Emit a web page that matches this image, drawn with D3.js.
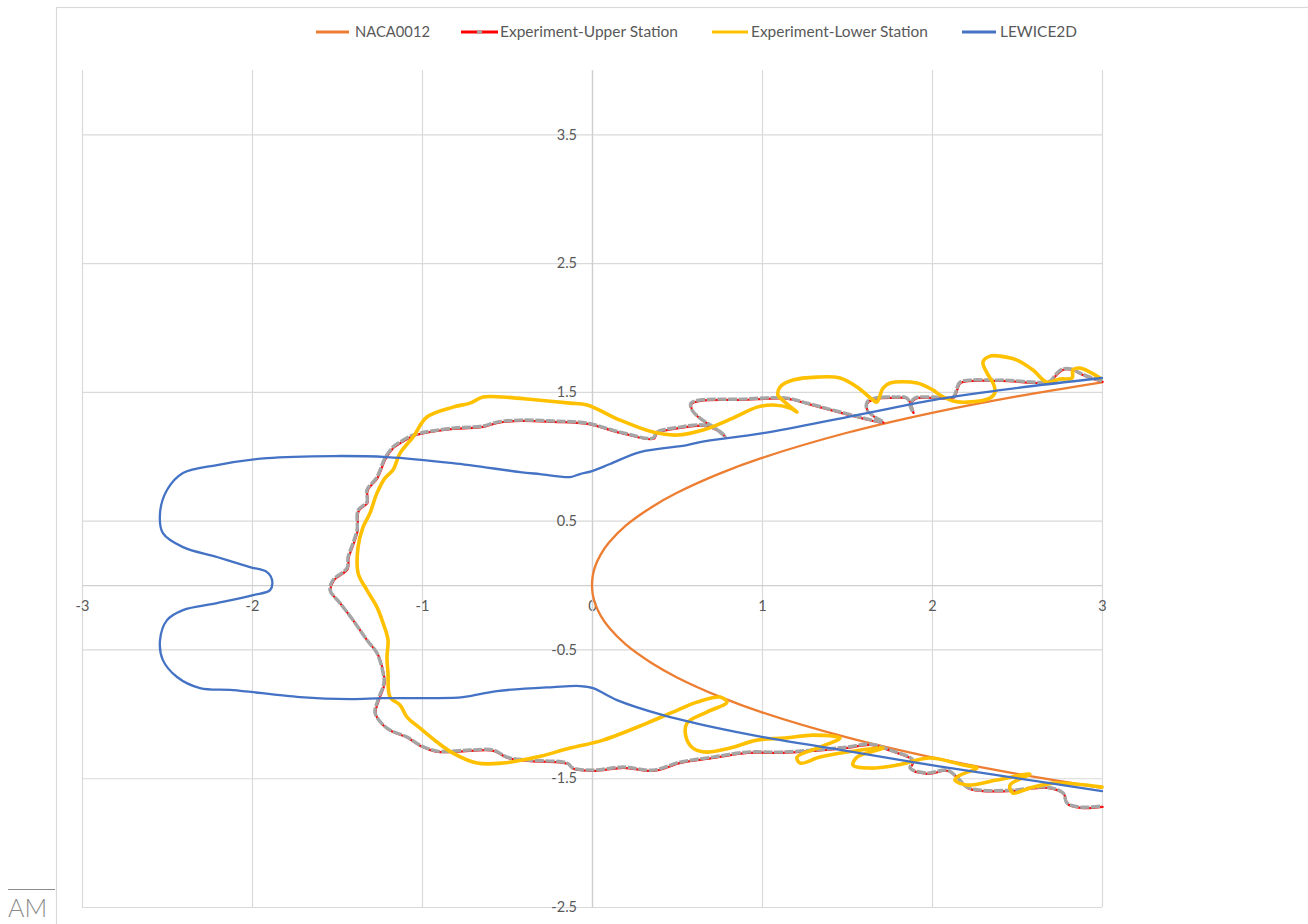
<!DOCTYPE html>
<html>
<head>
<meta charset="utf-8">
<script src="https://cdn.jsdelivr.net/npm/d3@7"></script>
<style>
  body { margin: 0; background: #fff; }
  svg { display: block; }
  text { font-family: Lato, "Open Sans", sans-serif; }
</style>
</head>
<body>
<svg id="chart" width="1308" height="924"></svg>
<script>
// Axis ticks
const xTicks = [-3, -2, -1, 0, 1, 2, 3];
const yTicks = [-2.5, -1.5, -0.5, 0.5, 1.5, 2.5, 3.5];

// NACA0012 clean airfoil contour (upper surface -> leading edge -> lower surface)
const nacaX = [3.0, 2.5, 2.0, 1.5, 1.0, 0.75, 0.5, 0.35, 0.2, 0.1, 0.05, 0.02, 0.005, 0, 0.005, 0.02, 0.05, 0.1, 0.2, 0.35, 0.5, 0.75, 1.0, 1.5, 2.0, 2.5, 3.0];
const nacaY = [1.575, 1.466, 1.338, 1.183, 0.988, 0.866, 0.717, 0.605, 0.463, 0.330, 0.235, 0.150, 0.076, 0, -0.076, -0.150, -0.235, -0.330, -0.463, -0.605, -0.717, -0.866, -0.988, -1.183, -1.338, -1.466, -1.575];

// Experiment - upper station ice tracing
const upperX = [3.0, 2.929, 2.871, 2.824, 2.765, 2.724, 2.694, 2.4, 2.165, 2.147, 2.124, 2.006, 1.9, 1.871, 1.888, 1.853, 1.782, 1.665, 1.618, 1.618, 1.665, 1.712, 1.576, 1.418, 1.265, 1.147, 0.871, 0.635, 0.582, 0.588, 0.635, 0.724, 0.782, 0.741, 0.653, 0.518, 0.382, 0.359, 0.165, -0.029, -0.229, -0.424, -0.559, -0.641, -0.818, -1.012, -1.053, -1.129, -1.171, -1.218, -1.265, -1.324, -1.324, -1.376, -1.382, -1.406, -1.435, -1.441, -1.524, -1.541, -1.482, -1.406, -1.324, -1.265, -1.229, -1.224, -1.259, -1.276, -1.206, -1.088, -1.012, -0.912, -0.718, -0.582, -0.5, -0.382, -0.147, -0.112, 0.006, 0.182, 0.359, 0.518, 0.712, 0.912, 1.106, 1.3, 1.5, 1.635, 1.753, 1.888, 1.871, 1.971, 2.088, 2.147, 2.206, 2.282, 2.476, 2.676, 2.771, 2.794, 2.871, 3.0];
const upperY = [1.584, 1.615, 1.646, 1.677, 1.677, 1.631, 1.584, 1.592, 1.576, 1.530, 1.460, 1.460, 1.452, 1.398, 1.343, 1.452, 1.460, 1.452, 1.421, 1.359, 1.305, 1.266, 1.305, 1.359, 1.413, 1.452, 1.444, 1.437, 1.413, 1.359, 1.297, 1.219, 1.157, 1.204, 1.243, 1.227, 1.188, 1.142, 1.188, 1.258, 1.274, 1.281, 1.266, 1.235, 1.219, 1.180, 1.165, 1.111, 1.072, 0.986, 0.839, 0.738, 0.645, 0.582, 0.427, 0.326, 0.217, 0.132, 0.039, -0.039, -0.140, -0.272, -0.427, -0.528, -0.683, -0.761, -0.893, -0.994, -1.111, -1.180, -1.243, -1.289, -1.281, -1.281, -1.336, -1.359, -1.382, -1.421, -1.437, -1.413, -1.437, -1.375, -1.336, -1.297, -1.297, -1.281, -1.258, -1.235, -1.281, -1.359, -1.421, -1.460, -1.437, -1.491, -1.569, -1.592, -1.592, -1.569, -1.615, -1.693, -1.724, -1.716];

// Experiment - lower station ice tracing
const lowerX = [2.988, 2.929, 2.871, 2.829, 2.824, 2.753, 2.676, 2.594, 2.5, 2.4, 2.341, 2.3, 2.324, 2.359, 2.371, 2.341, 2.206, 2.124, 2.047, 2.006, 1.912, 1.753, 1.712, 1.676, 1.653, 1.559, 1.459, 1.324, 1.182, 1.106, 1.094, 1.135, 1.206, 1.165, 1.065, 0.971, 0.829, 0.653, 0.5, 0.359, 0.165, -0.029, -0.129, -0.324, -0.524, -0.641, -0.718, -0.818, -0.971, -1.053, -1.129, -1.171, -1.218, -1.265, -1.306, -1.347, -1.376, -1.376, -1.324, -1.265, -1.229, -1.2, -1.206, -1.2, -1.188, -1.129, -1.088, -1.012, -0.912, -0.818, -0.676, -0.524, -0.324, -0.129, 0.065, 0.324, 0.476, 0.618, 0.753, 0.794, 0.676, 0.559, 0.553, 0.594, 0.676, 0.812, 0.971, 1.135, 1.3, 1.459, 1.341, 1.206, 1.224, 1.341, 1.5, 1.712, 1.559, 1.535, 1.635, 1.794, 1.988, 2.182, 2.265, 2.165, 2.135, 2.206, 2.382, 2.576, 2.459, 2.476, 2.576, 2.712, 2.841, 3.0];
const lowerY = [1.608, 1.654, 1.685, 1.670, 1.608, 1.600, 1.576, 1.670, 1.747, 1.778, 1.778, 1.732, 1.646, 1.569, 1.499, 1.452, 1.421, 1.429, 1.476, 1.514, 1.569, 1.569, 1.530, 1.421, 1.437, 1.538, 1.608, 1.615, 1.592, 1.538, 1.476, 1.421, 1.343, 1.375, 1.398, 1.382, 1.297, 1.204, 1.165, 1.188, 1.281, 1.398, 1.413, 1.437, 1.460, 1.460, 1.413, 1.382, 1.305, 1.149, 1.025, 0.893, 0.831, 0.714, 0.559, 0.450, 0.295, 0.093, -0.039, -0.171, -0.295, -0.427, -0.559, -0.683, -0.870, -0.932, -1.025, -1.111, -1.219, -1.305, -1.382, -1.382, -1.336, -1.266, -1.204, -1.072, -0.986, -0.909, -0.870, -0.909, -0.986, -1.072, -1.180, -1.266, -1.297, -1.266, -1.204, -1.188, -1.165, -1.188, -1.258, -1.336, -1.382, -1.336, -1.297, -1.266, -1.336, -1.398, -1.421, -1.398, -1.343, -1.398, -1.421, -1.476, -1.514, -1.553, -1.514, -1.468, -1.553, -1.615, -1.576, -1.538, -1.545, -1.569];

// LEWICE2D predicted ice shape
const lewiceX = [3.0, 2.4, 2.006, 1.5, 1.006, 0.635, 0.559, 0.282, 0.106, 0.0, -0.071, -0.129, -0.306, -0.424, -0.818, -1.206, -1.524, -1.912, -2.206, -2.406, -2.5, -2.541, -2.524, -2.406, -2.206, -2.012, -1.912, -1.882, -1.894, -1.994, -2.206, -2.406, -2.5, -2.541, -2.524, -2.441, -2.306, -2.112, -1.718, -1.424, -1.229, -0.953, -0.759, -0.559, -0.229, -0.071, 0.006, 0.147, 0.418, 0.712, 1.006, 1.4, 1.888, 2.382, 3.0];
const lewiceY = [1.608, 1.514, 1.437, 1.305, 1.180, 1.111, 1.087, 1.033, 0.940, 0.885, 0.862, 0.839, 0.862, 0.878, 0.947, 0.994, 1.002, 0.986, 0.932, 0.870, 0.738, 0.559, 0.404, 0.295, 0.218, 0.140, 0.101, 0.039, -0.039, -0.078, -0.140, -0.194, -0.272, -0.427, -0.583, -0.714, -0.800, -0.815, -0.870, -0.885, -0.878, -0.878, -0.870, -0.823, -0.792, -0.784, -0.800, -0.893, -1.010, -1.103, -1.180, -1.266, -1.375, -1.476, -1.600];

const legendNames = ["NACA0012", "Experiment-Upper Station", "Experiment-Lower Station", "LEWICE2D"];

const svg = d3.select("#chart");

// Plot area
const x = d3.scaleLinear().domain([-3, 3]).range([82, 1102]);
const y = d3.scaleLinear().domain([-2.5, 4]).range([907, 70]);

// Outer chart frame
svg.append("rect")
  .attr("x", 56.5).attr("y", 7.5)
  .attr("width", 1300).attr("height", 1000)
  .attr("fill", "#fff").attr("stroke", "#d9d9d9").attr("stroke-width", 1.2);

// Gridlines
const gridColor = "#d9d9d9";
const xGrid = svg.append("g")
  .attr("transform", `translate(0,${y(-2.5)})`)
  .call(d3.axisBottom(x).tickValues(xTicks).tickSize(-(y(-2.5) - y(4))).tickFormat(""));
const yGrid = svg.append("g")
  .attr("transform", `translate(${x(-3)},0)`)
  .call(d3.axisLeft(y).tickValues(yTicks).tickSize(-(x(3) - x(-3))).tickFormat(""));
[xGrid, yGrid].forEach(g => {
  g.select(".domain").remove();
  g.selectAll("line").attr("stroke", gridColor).attr("stroke-width", 1.2);
});

// Axis lines through the origin with their labels
const fmt = d => String(d);
const xAxis = svg.append("g")
  .attr("transform", `translate(0,${y(0)})`)
  .call(d3.axisBottom(x).tickValues(xTicks).tickSize(0).tickSizeOuter(0).tickPadding(16).tickFormat(fmt));
const yAxis = svg.append("g")
  .attr("transform", `translate(${x(0)},0)`)
  .call(d3.axisLeft(y).tickValues(yTicks).tickSize(0).tickSizeOuter(0).tickPadding(15).tickFormat(fmt));
[xAxis, yAxis].forEach(g => {
  g.select(".domain").attr("stroke", "#cfcfcf").attr("stroke-width", 1.3);
  g.selectAll("text").attr("fill", "#595959").attr("font-size", 14.5)
    .attr("font-family", "Lato, 'Open Sans', sans-serif");
});

// Series
const pts = (xs, ys) => xs.map((v, i) => [v, ys[i]]);
const smooth = d3.line().x(d => x(d[0])).y(d => y(d[1])).curve(d3.curveCatmullRom.alpha(0.5));
const plot = svg.append("g").attr("fill", "none").attr("stroke-linejoin", "round").attr("stroke-linecap", "round");

plot.append("path").attr("d", smooth(pts(nacaX, nacaY)))
  .attr("stroke", "#ED7D31").attr("stroke-width", 2.3);

plot.append("path").attr("d", smooth(pts(upperX, upperY)))
  .attr("transform", "translate(0.6,0.8)")
  .attr("stroke", "#FF0000").attr("stroke-width", 2.2);
plot.append("path").attr("d", smooth(pts(upperX, upperY)))
  .attr("stroke", "#A5A5A5").attr("stroke-width", 3.4)
  .attr("stroke-linecap", "butt").attr("stroke-dasharray", "9 1.6");

plot.append("path").attr("d", smooth(pts(lowerX, lowerY)))
  .attr("stroke", "#FFC000").attr("stroke-width", 3.6);

plot.append("path").attr("d", smooth(pts(lewiceX, lewiceY)))
  .attr("stroke", "#4472C4").attr("stroke-width", 2.3);

// Legend
const legendItems = [
  { name: legendNames[0], color: "#ED7D31", x0: 316, x1: 349, tx: 355, w: 75 },
  { name: legendNames[1], color: "#FF0000", x0: 461, x1: 498, tx: 500, w: 178, mid: "#A5A5A5" },
  { name: legendNames[2], color: "#FFC000", x0: 712, x1: 748, tx: 751, w: 177 },
  { name: legendNames[3], color: "#4472C4", x0: 962, x1: 996, tx: 1000, w: 77 }
];
const ly = 32;
const leg = svg.append("g");
legendItems.forEach(it => {
  leg.append("line").attr("x1", it.x0).attr("x2", it.x1).attr("y1", ly).attr("y2", ly)
    .attr("stroke", it.color).attr("stroke-width", 3);
  if (it.mid) {
    const c = (it.x0 + it.x1) / 2;
    leg.append("line").attr("x1", c - 2.5).attr("x2", c + 2.5).attr("y1", ly).attr("y2", ly)
      .attr("stroke", it.mid).attr("stroke-width", 3);
  }
  leg.append("text").attr("x", it.tx).attr("y", ly).attr("dy", "0.35em")
    .attr("fill", "#595959").attr("font-size", 14.5)
    .attr("textLength", it.w).attr("lengthAdjust", "spacingAndGlyphs")
    .text(it.name);
});

// Corner mark
svg.append("line").attr("x1", 8).attr("x2", 55).attr("y1", 889.5).attr("y2", 889.5)
  .attr("stroke", "#8c8c8c").attr("stroke-width", 1);
svg.append("text").attr("x", 8).attr("y", 917)
  .attr("fill", "#8c8c8c").attr("font-size", 25).attr("font-weight", 300)
  .attr("font-family", "Lato, 'Open Sans', sans-serif")
  .text("AM");
</script>
</body>
</html>
